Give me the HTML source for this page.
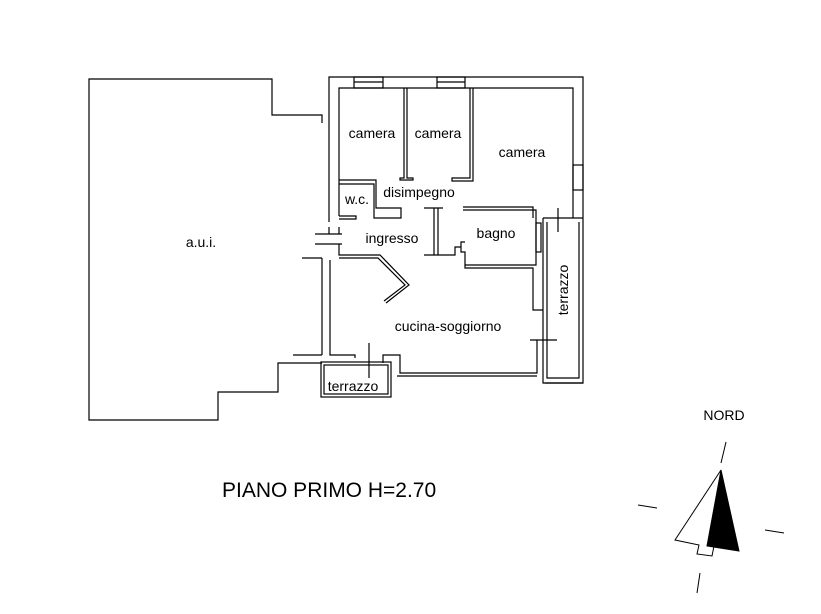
<!DOCTYPE html>
<html><head><meta charset="utf-8"><style>
body{margin:0;background:#fff}
svg{display:block}
text{font-family:"Liberation Sans",Arial,sans-serif;fill:#000}
</style></head><body>
<svg width="821" height="614" viewBox="0 0 821 614" xmlns="http://www.w3.org/2000/svg">
<g fill="none" stroke="#000" stroke-width="1.2">
<polyline points="322,123 322,115 272,115 272,79 89,79 89,420 218,420 218,392 278,392 278,363 322,363"/>
<polyline points="329,222 329,77 583,77 583,383 545,383"/>
<polyline points="339,216 339,88 573,88 573,218"/>
<rect x="354" y="77" width="29" height="11"/><line x1="354" y1="82" x2="383" y2="82"/>
<rect x="437" y="77" width="28" height="11"/><line x1="437" y1="82" x2="465" y2="82"/>
<rect x="573" y="165" width="10" height="25"/>
<polyline points="404,88 404,178 400,178 400,180 413,180 413,178 407,178 407,88"/>
<polyline points="470,88 470,178 452,178 452,181 473,181 473,88"/>
<polyline points="463,207 533,207 533,218"/>
<polyline points="463,210 536,210 536,265 465,265 465,252 461,252 461,242 465,242"/>
<polyline points="543,218 583,218"/>
<rect x="536" y="223" width="5" height="29"/>
<polyline points="543,218 543,383 583,383"/>
<polyline points="579,222 579,378 547,378 547,222"/>
<line x1="530" y1="340" x2="557" y2="340"/>
<line x1="558" y1="208" x2="558" y2="232"/>
<polyline points="465,265 465,268 533,268 533,310 543,310"/>
<polyline points="537,340 537,373 400,373 400,355 383,355 383,363"/>
<polyline points="537,376 397,376"/>
<polyline points="424,208 443,208"/>
<line x1="434" y1="208" x2="434" y2="255"/><line x1="438" y1="208" x2="438" y2="255"/>
<polyline points="424,255 455,255 455,247 461,247"/>
<polyline points="339,180 376,180 376,208 401,208 401,218 374,218 374,184 339,184"/>
<polyline points="339,216 356,216 356,219 339,219"/>
<line x1="315" y1="234" x2="342" y2="234"/><line x1="315" y1="244" x2="342" y2="244"/>
<line x1="329" y1="227" x2="329" y2="234"/><line x1="339" y1="227" x2="339" y2="234"/>
<polyline points="339,244 339,255 380,255 409,285 386,303"/>
<polyline points="330,260 330,355 355,355 355,358"/>
<polyline points="339,258 378,258 405,285 384,301"/>
<polyline points="322,258 302,258"/>
<line x1="322" y1="258" x2="322" y2="355"/>
<line x1="293" y1="355" x2="322" y2="355"/>
<line x1="369" y1="343" x2="369" y2="378"/>
<rect x="321" y="362" width="70" height="35"/>
<rect x="324" y="365" width="64" height="29"/>
</g>
<g font-size="14">
<text x="372" y="138" text-anchor="middle">camera</text>
<text x="438" y="138" text-anchor="middle">camera</text>
<text x="522" y="157" text-anchor="middle">camera</text>
<text x="357" y="204" text-anchor="middle">w.c.</text>
<text x="419" y="197" text-anchor="middle">disimpegno</text>
<text x="392" y="243" text-anchor="middle">ingresso</text>
<text x="496" y="238" text-anchor="middle">bagno</text>
<text x="448" y="331" text-anchor="middle">cucina-soggiorno</text>
<text x="353" y="391" text-anchor="middle">terrazzo</text>
<text x="201" y="247" text-anchor="middle">a.u.i.</text>
<text transform="translate(568,290) rotate(-90)" text-anchor="middle">terrazzo</text>
<text x="724" y="420" text-anchor="middle">NORD</text>
</g>
<text x="222" y="497" font-size="21">PIANO PRIMO H=2.70</text>
<g stroke="#000" stroke-width="1">
<polygon points="721,470 739,551 707,546" fill="#000"/>
<polyline fill="none" points="721,470 675,540 699,545 697,554 712,556 714,546"/>
<line x1="726" y1="442" x2="721" y2="463"/>
<line x1="700" y1="573" x2="697" y2="593"/>
<line x1="638" y1="505" x2="657" y2="508"/>
<line x1="765" y1="530" x2="784" y2="533"/>
</g>
</svg>
</body></html>
